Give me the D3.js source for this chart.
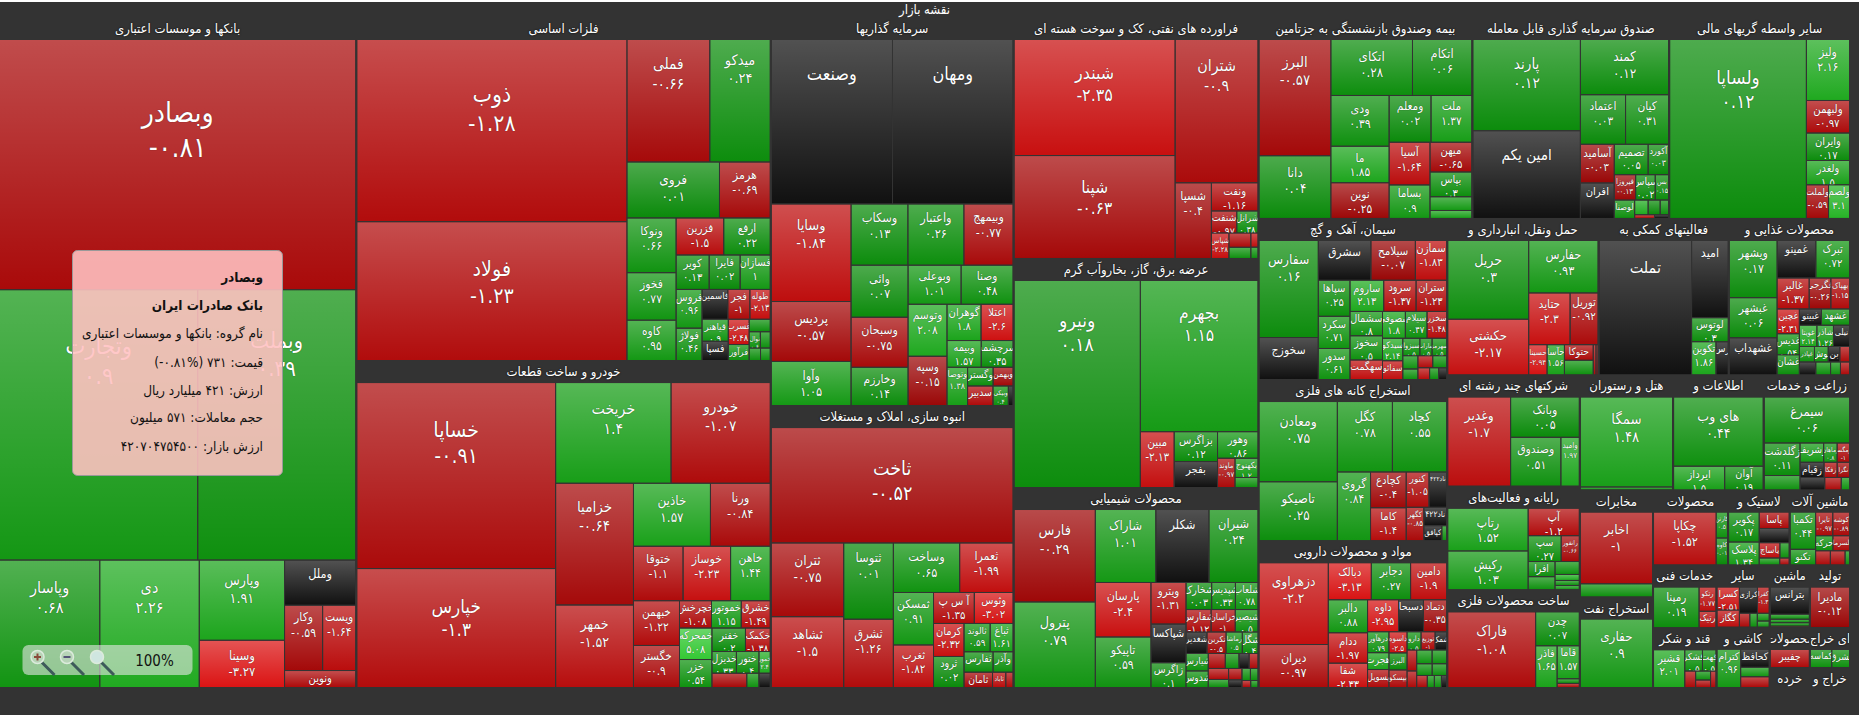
<!DOCTYPE html>
<html><head><meta charset="utf-8">
<script src="https://cdn.jsdelivr.net/npm/d3@7/dist/d3.min.js"></script>
<style>
html,body{margin:0;padding:0;background:#333;overflow:hidden}
svg text{font-family:"DejaVu Sans Condensed","DejaVu Sans",Tahoma,sans-serif}
</style></head><body>
<svg id="map" width="1859" height="715"></svg>
<script>
const chartTitle = "نقشه بازار";
const sectorNames = ["بانکها و موسسات اعتباری","فلزات اساسی","خودرو و ساخت قطعات","سرمایه گذاریها","انبوه سازی، املاک و مستغلات","فراورده های نفتی، کک و سوخت هسته ای","عرضه برق، گاز، بخاروآب گرم","محصولات شیمیایی","بیمه وصندوق بازنشستگی به جزتامین","صندوق سرمایه گذاری قابل معامله","سایر واسطه گریهای مالی","سیمان، آهک و گچ","استخراج کانه های فلزی","مواد و محصولات دارویی","حمل ونقل، انبارداری و","فعالیتهای کمکی به","محصولات غذایی و","شرکتهای چند رشته ای","رایانه و فعالیت‌های","ساخت محصولات فلزی","هتل و رستوران","اطلاعات و","زراعت و خدمات","مخابرات","استخراج نفت","محصولات","لاستیک و","ماشین آلات","خدمات فنی","قند و شکر","سایر","کاشی و","ماشین","تولید","محصولات","ای خراج","خرده","خراج و"];
const sectorCaps = [2385,1417,1350,939,682,588,559,488,428,394,362,303,303,276,236,203,189,147,137,129,107,104,99,78,66,56,46,45,39.7,37.8,33,32,25,25,16,16,8,8];

const banks = [["وبصادر",-0.81,886],["وتجارت",0.9,533],["وبملت",0.39,425],["وپاسار",0.68,127],["دی",2.26,126],["وپارس",1.91,68],["وسینا",-3.27,40],["وملل",null,32],["وکار",-0.59,24.7],["ویست",-1.64,21.5],["ونوین",-1.0,12]];
const metals = [["ذوب",-1.28,485],["فولاد",-1.23,370],["فملی",-0.66,100],["میدکو",0.24,73],["فروی",0.01,51],["هرمز",-0.69,28],["ونوکا",0.66,26.5],["فخوز",0.77,23],["کاوه",0.95,19.6],["فزرین",-1.5,17.4],["ارفع",0.22,17],["کویر",0.13,11.2],["فایرا",0.02,10.5],["فسازان",1,10.2],["فروس",0.96,9.9],["فولاژ",0.46,8.3],["فاسمین",null,7.6],["فجر",-1,6.5],["ظوله",-2.13,6],["قیاهنر",0.9,5.7],["فسپا",null,5],["فسرب",-2.48,5.2],["فرآور",0.5,3.3],["فولای",0.4,2.6],["نوال",0.6,1.8],["ان",0.5,1.6],["وس",0.4,1.4],["راد",0.4,1.2]];
const autos = [["خساپا",-0.91,363],["خپارس",-1.3,232],["خریخت",1.4,114],["خودرو",-1.07,98],["خزامیا",-0.64,93],["خمهر",-1.52,63],["خاذین",1.57,47.6],["ورنا",-0.84,37],["ختوقا",-1.1,26.5],["خوساز",-2.23,25.4],["خاهن",1.44,21.2],["خبهمن",-1.22,20.2],["خگستر",-0.9,19],["خچرخش",-1.08,8.6],["خموتور",1.15,8],["خشرق",-1.49,7.8],["خمحرکه",5.08,10],["خزر",0.54,8.9],["خفنر",0.2,7.7],["خکمک",-1.38,5.7],["خدیزل",0.33,5.2],["ختور",0.4,4.8],["خمور",2.4,2.4],["خنارک",-0.8,4.9],["ختصیر",0.6,1.7],["خکار",null,1.6]];
const investments = [["وصنعت",null,192],["ومهان",null,191],["وسایا",-1.84,75],["پردیس",-0.57,46],["وآوا",1.05,34],["وسکاب",0.13,33.5],["واعتبار",0.26,33],["وبیمهج",-0.77,29],["وائی",0.07,28.6],["وسبحان",-0.75,27.5],["وخارزم",0.14,21],["وبوعلی",1.01,20],["وصنا",0.48,19.6],["وتوسم",2.08,19.5],["وسپه",-0.15,18.5],["گوهران",1.8,11.9],["اعتلا",-2.6,11.2],["وبیمه",1.57,8.8],["سرچشمه",0.35,8.2],["وتوصا",1.38,7.6],["وگستر",0.3,4.6],["وبهمن",-0.5,3.6],["سدبیر",-1.1,4.8],["وبیکی",0.4,2.9],["وا",null,0.9]];
const massBuilding = [["ثاخت",-0.52,274],["ثتران",-0.75,52.5],["ثشاهد",-1.5,50.4],["ثتوسا",0.01,37.2],["ثشرق",-1.26,33.3],["وساخت",0.65,32.3],["ثعمرا",-1.99,26],["ثمسکن",0.91,20.7],["ثغرب",-1.82,16.8],["آ س پ",-1.35,12.4],["وثوس",-3.02,11.8],["کرمان",-2.32,9.9],["ثرود",0.02,9.3],["ثالوند",0.59,7.3],["ثباغ",1.61,6.4],["ثفارس",0.3,5.8],["وآذر",0.4,4],["ثامان",-0.6,4.3],["ثاباد",-1.6,2],["ثنور",-1,1.1]];
const oilProducts = [["شبندر",-2.35,184],["شپنا",-0.63,163],["شتران",-0.9,117],["شسپا",-0.4,27],["ونفت",-1.16,12.9],["شنفت",-0.97,5.5],["شرانل",0.38,4.6],["شپاس",-2.28,4.4],["شبهرن",-1,3.1],["شاوان",0.5,2.4],["ش",-2,1],["شد",0.4,0.8]];
const electricity = [["ونیرو",0.18,260],["بجهرم",1.15,177],["مبین",-2.13,18.8],["بزاگرس",0.12,12.9],["بفجر",null,11.2],["وهور",0.86,10.7],["ماوند",-0.97,5.1],["بکهنوج",1.2,4.4],["بیستون",0.5,2.3]];
const chemicals = [["فارس",-0.29,73.5],["پترول",0.79,68],["شاراک",1.01,43.2],["شکلر",null,38],["شیران",0.24,35],["پارسان",-2.4,29.7],["تاپیکو",0.59,27.5],["ویترو",-1.31,14.3],["شپاکسا",null,13.3],["زاگرس",0.1,8.5],["شخارک",0.03,6.8],["شپدیس",0.33,6.3],["شلعاب",0.78,6],["شفارس",-1.12,5.5],["خراسان",-1,5.3],["شیصیر",0.5,5],["شغدیر",null,4.4],["نکربن",-0.5,4],["رماشا",0.5,3.4],["شگل",0.4,3.3],["شیارس",0.5,3.8],["شدوس",0.4,3.6],["شیراز",-1,2.5],["نوری",0.4,2],["داف",null,1.5],["وگا",-1,1.3],["جم",-1.2,2.2],["بارس",0.4,1.6],["لاج",-1,1.5],["املا",null,1],["بنا",0.5,1],["کشه",0.4,0.9],["شج",-1,0.6],["شو",0.4,0.5]];
const insurance = [["البرز",-0.57,80.5],["دانا",0.04,43.4],["اتکای",0.28,44],["اتکام",0.06,32],["ودی",0.39,28.5],["ما",1.85,20.5],["نوین",-0.25,20],["ومعلم",0.02,18.9],["ملت",1.37,18.4],["آسیا",-1.64,16.8],["بساما",0.9,13.2],["میهن",-0.65,12],["بپاس",0.3,10],["کوثر",1.1,5.5],["سینا",1.63,3.2]];
const etfs = [["پارند",0.12,94.5],["امین یکم",null,91],["کمند",0.12,47],["اعتماد",0.03,21.6],["کیان",0.31,20.6],["آسامید",-0.03,12.6],["افران",null,11.6],["تصمیم",0.05,9.9],["آکورد",0.03,6],["فیروزا",-0.13,5.25],["سپاس",0.02,4.8],["بس",0.15,3.3],["لوصنا",0.5,3.6],["مس",2.3,1.9],["دارا",0.01,1.7],["نخل",0.5,1.2],["زر",-1.5,0.7],["طلا",null,0.5]];
const otherFinance = [["ولساپا",0.12,240],["ولیز",2.16,25.8],["ولبهمن",-0.97,13.8],["وایران",0.17,11.6],["ولغدر",1.5,10.3],["ولملت",-0.59,7.3],["ولصم",3.1,6.9]];
const cement = [["سفارس",0.16,54.3],["سخوزج",null,23.5],["سشرق",null,19.8],["سیلامح",-0.07,16.7],["سمازن",-1.83,11.8],["سپاها",0.25,10.8],["سکرد",0.71,9.6],["سدور",0.61,9.3],["ساروم",2.13,9.9],["سرود",-1.37,9.5],["ستران",-1.23,9],["سشمال",0.8,7.5],["سخوز",0.5,7.4],["سهگمت",-1.95,6],["سصوفی",1.8,5.8],["سیلام",0.47,5.5],["سخزر",-1.48,5],["سیدکو",2.14,4.3],["سفائو",-1.95,3.6],["سبزوا",0.5,2.8],["ساراب",0.5,2],["سهرمز",0.5,2.4],["سغرب",0.6,1.9],["سصفها",0.5,1.5],["سقاین",-1.2,1.7],["ربیل",0.5,1.6],["شت",-1.5,1.3],["سنیر",0.4,1],["سد",null,0.9]];
const ores = [["ومعادن",0.75,60],["تاصیکو",0.25,44],["کگل",0.78,37],["کچاد",0.55,36.5],["گروی",0.84,21.8],["کچادع",-0.4,12.2],["کاما",-1.4,11.2],["کنور",-1.05,7.7],["۴۲۲ناد",null,6],["کگهر",-0.85,5.6],["۴۲۲ناد",null,4],["کپافق",null,2.6],["ک",0.5,0.7]];
const pharma = [["دزهراوی",-2.2,53.3],["دیران",-0.97,28],["دبالک",-3.13,15],["دجابر",0.27,13.7],["دامین",-1.9,12.6],["دالبر",0.88,12.2],["ددام",-1.97,11.2],["شفا",-2.33,9],["داوه",-2.95,9.3],["دسبحا",null,7.5],["دتماد",-0.35,7],["درهآور",0.79,4.2],["هجرت",1.66,3.4],["پسوپل",-1.13,3.6],["داسوه",-2.5,3.6],["البرز",0.04,2.9],["بیسکو",-1,3],["دارو",0.5,2.4],["توزیع",-1,2.4],["شمک",null,2],["عبید",-1,1.9],["دروز",-1,1.5],["بخش",0.6,2],["سبین",0.5,1.9],["دابور",0.5,1.7],["شیمی",0.5,1.6],["ک.د",-1,1.2],["شن",0.5,0.8],["زک",0.5,0.8],["دف",null,0.6]];
const transport = [["حریل",0.3,60.8],["حکشتی",-2.17,42.9],["حفارس",0.93,34.7],["حتاید",-2.3,20.4],["توریل",-0.92,13.8],["حسینا",-2.94,5.3],["حآسا",1.56,5],["حتوکا",-1,4.3],["حسیر",0.5,4],["حپ",-1,0.8],["حش",-0.3,0.6]];
const support = [["تملت",null,121.5],["امید",null,27.7],["لوتوس",0.3,8.6],["تکوین",1.86,7.9],["رس",null,4]];
const food = [["ویشهر",0.17,25.7],["غبشهر",0.06,18],["غشهداب",null,16.7],["غمینو",null,13.7],["تبرک",0.72,11.9],["غالبر",-1.37,9.3],["غگرجی",-0.26,6.3],["بهپاک",-1.15,5.4],["غچین",-2.31,5.2],["غدیس",0.54,4.4],["غشان",0.19,4.2],["غبینو",null,3.4],["غشهد",0.5,4.3],["غویتا",2.14,3.5],["شاذر",1.26,3.3],["نیلی",null,3.2],["غپاذر",0.5,2.2],["نوش",0.5,2],["بن",null,1.7],["لم",-1,1.4],["غاذر",null,2],["نستا",0.4,1.8],["ام",0.5,1.2],["یها",-1,1.1]];
const multi = [["وغدیر",-1.7,54.9],["وبانک",0.05,27.2],["وصندوق",0.51,24],["وامید",1.97,8.8]];
const computer = [["رتاپ",1.52,33],["رکیش",1.03,30],["آپ",-1.2,13.5],["سپ",0.27,8.2],["رانفور",-0.66,4.5],["افرا",0.4,3.9],["مفاخر",0.5,3.4],["پرداخت",0.6,3],["ستم",2.3,1.4],["رفاه",0.5,1.2],["کشا",1,1]];
const metalProducts = [["فاراک",-1.08,65.4],["چدن",0.07,14.6],["فاذر",1.65,8.8],["قاما",1.57,7.2],["فلا",0.4,1],["فن",-1,0.9]];
const hotels = [["سمگا",1.48,82.8],["گردش",0.5,2.8]];
const info = [["های وب",0.44,60],["ایرداز",1.5,11.8],["آوان",0.19,8.9]];
const agriculture = [["سیمرغ",0.06,37.8],["زگلدشت",0.11,11.2],["زدشت",0.5,5],["زشریف",1.2,4.4],["زماهان",0.8,2.5],["زمگسا",-1,2.3],["زقیام",null,3.5],["زفکا",-1,1.9],["نگزا",-0.5,1.8],["زبینا",null,3],["رکسا",-1,2],["زپ",0.6,1]];
const telecom = [["اخابر",-1,49.7],["همراه",0.4,9.1]];
const oilExtraction = [["حفاری",0.9,50.4]];
const paperProducts = [["چکاپا",-1.52,32.4],["کارتن",0.5,2.9],["کاوه",0.01,3]];
const rubber = [["پکویر",0.17,8.4],["پلاسک",1.34,6.4],["پاسا",-1,4.5],["یکرمان",null,3.9],["یاساچ",-1.8,2.9],["کایر",0.4,1.3],["پتا",0.5,1.3],["ش",-1,0.6]];
const machinery = [["تکمبا",0.44,9.1],["تکنو",0.5,3.8],["تایرا",-0.97,3.9],["کوشه",-0.89,3.8],["حرکه",0.4,2.5],["لسرما",-1,2.4],["تکشا",-1,2],["لابسا",-1,2],["تک",0.5,0.6]];
const techServices = [["رمپنا",0.19,18],["رتکو",-1.77,4],["رتیک",-1.6,2.7]];
const sugar = [["قشیر",2.01,10.6],["قشکر",0.5,3.4],["قهت",0.5,2.6],["قپ",-1,1.6],["قیشا",0.5,1.2],["قچ",-1,1],["قز",-1,0.8]];
const otherServices = [["کسرا",-2.51,5],["کگاز",-1.85,3.7],["کرازی",null,4.6],["کفرا",-1.3,3],["چان",-1,1.4],["ام",0.4,1],["شیر",0.5,0.9],["پا",0.5,0.7]];
const tiles = [["کترام",0.96,7.7],["کحافظ",null,4.4],["کندی",0.81,2.3],["کلوند",-1,2.6]];
const machines2 = [["بترانس",null,10.3],["بالبر",0.5,1.9],["بشه",0.4,1.3],["بک",0.5,1.3],["بن",-1,0.5]];
const manufacture = [["مادیرا",-0.12,15]];
const productsB = [["چفیبر",-1.1,7.5]];
const extractionB = [["کماسه",0.5,3.5],["لشرق",0.5,2.9]];
const retail = [["خرده",0.5,0.3]];
const extractionC = [["خا",0.5,0.5],["خب",-1,0.4],["خج",0.5,0.4]];

const sectorStocks = [banks,metals,autos,investments,massBuilding,oilProducts,electricity,chemicals,insurance,etfs,otherFinance,cement,ores,pharma,transport,support,food,multi,computer,metalProducts,hotels,info,agriculture,telecom,oilExtraction,paperProducts,rubber,machinery,techServices,sugar,otherServices,tiles,machines2,manufacture,productsB,extractionB,retail,extractionC];

const tooltipLines = ["وبصادر","بانک صادرات ایران","نام گروه: بانکها و موسسات اعتباری","قیمت: ۷۳۱ (\u200E-۰.۸۱%\u200E)","ارزش: ۴۲۱ میلیارد ریال","حجم معاملات: ۵۷۱ میلیون","ارزش بازار: ۴۲۰۷۰۴۷۵۴۵۰۰"];

// Where the reference's squarified rows turn the other way: {start index: [count, asRow]}
const tileHints = {
  root: {34:[2,true],36:[2,true]},
  "فلزات اساسی": {2:[2,true]},
  "خودرو و ساخت قطعات": {13:[3,true],16:[2,false],18:[2,true],20:[3,true],23:[1,false],24:[2,true]},
  "سرمایه گذاریها": {15:[2,true],17:[2,true],19:[1,false],20:[2,true],22:[3,true]},
  "انبوه سازی، املاک و مستغلات": {9:[2,true],11:[2,false],13:[2,true],15:[2,true],17:[1,false],18:[2,true]},
  "محصولات شیمیایی": {7:[3,false],10:[3,true],13:[3,true],16:[4,true],20:[2,false],22:[4,true],26:[2,false],28:[2,false],30:[2,true],32:[2,true]},
  "بیمه وصندوق بازنشستگی به جزتامین": {0:[2,false],2:[2,true],4:[3,false],7:[2,true],9:[2,false],11:[1,true],12:[1,true],13:[2,false]},
  "صندوق سرمایه گذاری قابل معامله": {5:[2,false],7:[2,true],9:[3,true],12:[1,false],13:[3,true],16:[2,true]},
  "سیمان، آهک و گچ": {0:[2,false],2:[3,true],5:[3,false],8:[3,true],11:[3,false],14:[3,true],17:[2,false],19:[3,true],22:[2,false],24:[2,true]},
  "استخراج کانه های فلزی": {0:[2,false],2:[2,true],4:[1,false],5:[2,false],7:[2,true],9:[1,false],10:[1,true],11:[2,true]},
  "مواد و محصولات دارویی": {5:[3,false],8:[3,true],11:[3,false],14:[3,false],17:[3,true],20:[2,false],22:[2,true],24:[2,true],26:[4,true]},
  "حمل ونقل، انبارداری و": {0:[2,false],2:[1,true],3:[2,true],5:[1,false],6:[1,false],7:[2,false],9:[2,true]},
  "فعالیتهای کمکی به": {0:[1,false]},
  "محصولات غذایی و": {0:[3,false],3:[2,true],5:[3,true],8:[3,false],11:[2,true],13:[3,true],16:[4,true],20:[4,true]},
  "رایانه و فعالیت‌های": {0:[2,false],2:[1,true],3:[2,true],5:[2,false],7:[1,true],8:[3,false]},
  "ساخت محصولات فلزی": {0:[1,false],1:[1,true],2:[1,false],3:[1,true],4:[2,false]},
  "زراعت و خدمات": {1:[2,false],3:[3,true],6:[3,true],9:[3,true]},
  "لاستیک و": {0:[2,false],2:[1,true],3:[1,true],4:[2,true],6:[2,true]},
  "ماشین آلات": {0:[2,false],2:[2,true],4:[2,true],6:[3,true]},
  "خدمات فنی": {0:[1,false],1:[2,false]},
  "قند و شکر": {0:[1,false],1:[2,true]},
  "سایر": {0:[2,false],2:[2,true],4:[1,false]},
  "کاشی و": {0:[1,false],1:[1,true],2:[2,false]},
  "ماشین": {0:[1,true],1:[4,false]}
};

const W = 1849, H = 668, TOP = 19, HEADER = 21;
const toFa = v => String(v).replace(/\d/g, d => "۰۱۲۳۴۵۶۷۸۹"[d]);

function hintedSquarify(parent,x0,y0,x1,y1){
  const hints = tileHints[parent.depth===0 ? "root" : parent.data.name] || {};
  const nodes = parent.children, n = nodes.length;
  let i0=0,i1=0,value=parent.value;
  while(i0<n){
    const dx=x1-x0, dy=y1-y0, hint=hints[i0];
    let sumValue, dice;
    if(hint){
      i1=i0+hint[0]; sumValue=d3.sum(nodes.slice(i0,i1),d=>d.value); dice=hint[1];
    } else {
      sumValue=nodes[i1++].value;
      let minValue=sumValue,maxValue=sumValue;
      const alpha=Math.max(dy/dx,dx/dy)/value;
      let beta=sumValue*sumValue*alpha, minRatio=Math.max(maxValue/beta,beta/minValue);
      for(;i1<n;++i1){
        const nodeValue=nodes[i1].value; sumValue+=nodeValue;
        if(nodeValue<minValue)minValue=nodeValue;
        if(nodeValue>maxValue)maxValue=nodeValue;
        beta=sumValue*sumValue*alpha;
        const newRatio=Math.max(maxValue/beta,beta/minValue);
        if(newRatio>minRatio){sumValue-=nodeValue;break;}
        minRatio=newRatio;
      }
      dice=dx<dy;
    }
    const row={value:sumValue,children:nodes.slice(i0,i1)};
    if(dice) d3.treemapDice(row,x0,y0,x1,value?y0+=dy*sumValue/value:y1);
    else d3.treemapSlice(row,x0,y0,value?x0+=dx*sumValue/value:x1,y1);
    value-=sumValue; i0=i1;
  }
}

const rootData = {name:"root", children: sectorNames.map((name,i) => {
  const total = d3.sum(sectorStocks[i], s => s[2]);
  return {name, children: sectorStocks[i].map(s => ({name:s[0], change:s[1], value:s[2]/total*sectorCaps[i]}))};
})};
const root = d3.hierarchy(rootData).sum(d => d.value || 0);
d3.treemap().size([W,H]).round(false)
  .tile(hintedSquarify)
  .paddingInner(d => d.depth === 0 ? 2 : 1)
  .paddingTop(d => d.depth === 1 ? HEADER : 0)(root);

const redScale = d3.scaleLinear().domain([0,-3.3,-5]).range(["#980707","#dc1414","#ff2222"]).clamp(true);
const greenScale = d3.scaleLinear().domain([0,2.3,5]).range(["#0b8a0b","#21ab21","#34c834"]).clamp(true);
const base = c => c == null ? "#111111" : (c < 0 ? redScale(c) : greenScale(c));
const fontScale = d3.scaleSqrt().domain([0,88644]).range([9,28]);

const svg = d3.select("#map");
const defs = svg.append("defs");
const gr = defs.append("linearGradient").attr("id","gloss").attr("x1",0).attr("y1",0).attr("x2",0).attr("y2",1);
gr.append("stop").attr("offset",0).attr("stop-color","#fff").attr("stop-opacity",.27);
gr.append("stop").attr("offset",1).attr("stop-color","#fff").attr("stop-opacity",0);

svg.append("rect").attr("width",1859).attr("height",715).attr("fill","#333");
svg.append("rect").attr("width",1859).attr("height",2).attr("fill","#fff");
svg.append("text").attr("x",W/2).attr("y",10).attr("text-anchor","middle").attr("dominant-baseline","middle")
  .attr("fill","#fff").attr("font-size",13).text(chartTitle);

const map = svg.append("g").attr("transform",`translate(0,${TOP})`);

const sectors = map.selectAll("svg.sector").data(root.children).join("svg").attr("class","sector")
  .attr("x",d=>d.x0).attr("y",d=>d.y0).attr("width",d=>Math.max(0,d.x1-d.x0)).attr("height",d=>Math.max(0,d.y1-d.y0));
sectors.append("text").attr("x",d=>(d.x1-d.x0)/2).attr("y",10.5).attr("text-anchor","middle").attr("dominant-baseline","middle")
  .attr("fill","#fff").attr("font-size",13).style("text-shadow","0 0 2px #000").text(d=>d.data.name);

const leaves = map.selectAll("svg.leaf").data(root.leaves()).join("svg").attr("class","leaf")
  .attr("x",d=>d.x0).attr("y",d=>d.y0).attr("width",d=>Math.max(0,d.x1-d.x0)).attr("height",d=>Math.max(0,d.y1-d.y0));
leaves.append("rect").attr("width","100%").attr("height","100%").attr("fill",d=>base(d.data.change));
leaves.append("rect").attr("width","100%").attr("height","100%").attr("fill","url(#gloss)");

const area = d => Math.max(1,(d.x1-d.x0)*(d.y1-d.y0));
const labelLen = d => Math.max(d.data.name.length, d.data.change==null?0:toFa(d.data.change).length, 2);
const font = d => Math.max(6.5, Math.min(fontScale(area(d)), 2.3*(d.x1-d.x0)/labelLen(d)));
const nameY = d => Math.max(7, .25*Math.sqrt(area(d)));
const valueY = d => nameY(d)+1.25*font(d);
const labelled = leaves.filter(d => (d.y1-d.y0) >= 14 && (d.x1-d.x0) >= 10);
labelled.append("text").attr("x",d=>(d.x1-d.x0)/2).attr("y",nameY).attr("text-anchor","middle").attr("dominant-baseline","middle")
  .attr("fill","#fff").attr("font-size",font).style("text-shadow","0 0 1px rgba(0,0,0,.6)").text(d=>d.data.name);
labelled.filter(d=>d.data.change!=null && valueY(d) < (d.y1-d.y0)).append("text").attr("x",d=>(d.x1-d.x0)/2)
  .attr("y",valueY).attr("text-anchor","middle").attr("dominant-baseline","middle")
  .attr("fill","#fff").attr("font-size",font).style("text-shadow","0 0 1px rgba(0,0,0,.6)").text(d=>toFa(d.data.change));

// tooltip
const tip = svg.append("g");
tip.append("rect").attr("x",72.5).attr("y",250.5).attr("width",210).attr("height",225).attr("rx",5)
  .attr("fill","rgb(255,193,193)").attr("fill-opacity",.89).attr("stroke","#999");
const lineY = [278,306,334,363,391,418,447];
tip.selectAll("text").data(tooltipLines).join("text").attr("x",263).attr("y",(d,i)=>lineY[i])
  .style("direction","rtl").attr("text-anchor","start").attr("dominant-baseline","middle")
  .attr("fill","#111").attr("font-size",13.5).attr("font-weight",(d,i)=>i<2?"bold":"normal").text(d=>d);

// zoom control
const zc = svg.append("g");
zc.append("rect").attr("x",22.5).attr("y",645).attr("width",170).attr("height",30).attr("rx",6)
  .attr("fill","#e8e8e8").attr("fill-opacity",.6);
[37.5,67,97].forEach((cx,i)=>{
  const g = zc.append("g").attr("transform",`translate(${cx},657)`);
  g.append("line").attr("x1",4).attr("y1",5).attr("x2",17).attr("y2",18).attr("stroke","#3d5a5a").attr("stroke-width",3);
  g.append("circle").attr("r",6.5).attr("fill",i==2?"#cfe6e0":"#b7d4b7").attr("stroke","#dcebdc").attr("stroke-width",1.5);
  if(i<2) g.append("line").attr("x1",-3.5).attr("x2",3.5).attr("stroke",i==0?"#8a4a3a":"#557").attr("stroke-width",2);
  if(i==0) g.append("line").attr("y1",-3.5).attr("y2",3.5).attr("stroke","#8a4a3a").attr("stroke-width",2);
});
zc.append("text").attr("x",154.5).attr("y",661).attr("text-anchor","middle").attr("dominant-baseline","middle")
  .attr("fill","#111").attr("font-size",15).text("100%");
</script>
</body></html>
